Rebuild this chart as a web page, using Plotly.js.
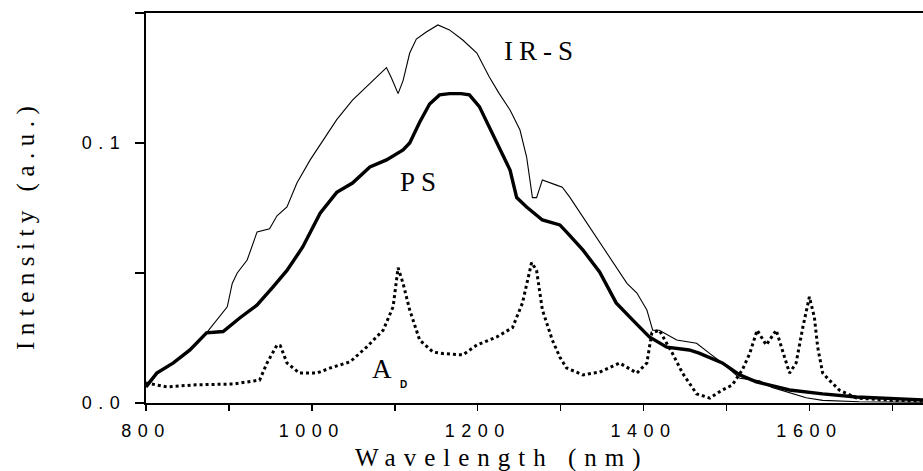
<!DOCTYPE html>
<html>
<head>
<meta charset="utf-8">
<script src="https://cdn.plot.ly/plotly-3.0.1.min.js"></script>
<style>
  html, body { margin: 0; padding: 0; background: #fff; }
  .xtick text, .ytick text { letter-spacing: 6.5px; }
  .annotation[data-index="0"] text { letter-spacing: 8px; }
  .annotation[data-index="1"] text { letter-spacing: 6.5px; }
  .annotation[data-index="2"] text, .annotation[data-index="3"] text { letter-spacing: 6px; }
</style>
</head>
<body>
<div id="chart" style="width:923px;height:471px;"></div>
<script>
// ---- Data (wavelength in nm, intensity in a.u.) ----
const irsX = [800, 813, 833, 853, 873, 885, 898, 904, 910, 922, 934, 949, 958, 970, 982, 998, 1013, 1030, 1049, 1070, 1090, 1096, 1104, 1110, 1118, 1126, 1138, 1152, 1166, 1182, 1199, 1214, 1226, 1239, 1251, 1259, 1266, 1271, 1278, 1295, 1302, 1311, 1327, 1339, 1355, 1367, 1380, 1392, 1404, 1411, 1419, 1440, 1464, 1480, 1495, 1516, 1540, 1555, 1575, 1596, 1616, 1660, 1700, 1737];
const irsY = [0.0062, 0.0115, 0.0154, 0.0204, 0.027, 0.032, 0.037, 0.046, 0.050, 0.055, 0.0658, 0.067, 0.072, 0.0754, 0.0846, 0.0935, 0.101, 0.109, 0.1165, 0.123, 0.129, 0.125, 0.119, 0.124, 0.1346, 0.140, 0.1427, 0.1454, 0.1435, 0.1396, 0.1346, 0.1254, 0.119, 0.1127, 0.105, 0.0946, 0.079, 0.079, 0.0858, 0.0838, 0.083, 0.0792, 0.0715, 0.0654, 0.0577, 0.0523, 0.046, 0.0423, 0.0358, 0.028, 0.028, 0.0242, 0.023, 0.019, 0.0154, 0.0095, 0.0085, 0.006, 0.004, 0.002, 0.001, 0.0005, 0.0004, 0.0003];

const psX = [800, 813, 833, 853, 873, 893, 913, 934, 953, 970, 989, 1010, 1030, 1049, 1070, 1090, 1110, 1118, 1130, 1142, 1154, 1166, 1180, 1190, 1202, 1214, 1226, 1239, 1247, 1259, 1278, 1299, 1307, 1327, 1347, 1367, 1387, 1407, 1428, 1455, 1467, 1495, 1516, 1536, 1576, 1616, 1657, 1696, 1737];
const psY = [0.0062, 0.0115, 0.0154, 0.0204, 0.027, 0.0275, 0.0327, 0.0377, 0.0446, 0.051, 0.060, 0.073, 0.081, 0.0846, 0.0908, 0.0935, 0.0973, 0.100, 0.108, 0.115, 0.1185, 0.119, 0.119, 0.1185, 0.114, 0.106, 0.0985, 0.0896, 0.079, 0.0754, 0.0704, 0.0685, 0.0658, 0.0588, 0.0504, 0.0385, 0.0319, 0.0254, 0.0215, 0.0204, 0.0192, 0.0154, 0.0108, 0.0081, 0.005, 0.0035, 0.0023, 0.0019, 0.0012];

const adX = [800, 825, 860, 905, 937, 946, 958, 962, 970, 985, 1006, 1025, 1046, 1066, 1086, 1098, 1104, 1110, 1118, 1130, 1146, 1158, 1182, 1199, 1223, 1242, 1254, 1265, 1271, 1278, 1290, 1299, 1307, 1327, 1347, 1371, 1392, 1404, 1410, 1419, 1435, 1447, 1464, 1480, 1495, 1507, 1519, 1528, 1537, 1548, 1560, 1576, 1584, 1592, 1600, 1606, 1610, 1616, 1624, 1636, 1657, 1700, 1737];
const adY = [0.0077, 0.0062, 0.007, 0.0073, 0.0088, 0.0154, 0.0223, 0.022, 0.0154, 0.0115, 0.0115, 0.0138, 0.0158, 0.0215, 0.028, 0.037, 0.052, 0.046, 0.0358, 0.0242, 0.0196, 0.019, 0.0185, 0.0223, 0.0254, 0.029, 0.0385, 0.054, 0.051, 0.0358, 0.0242, 0.0177, 0.0135, 0.0108, 0.0119, 0.0154, 0.0115, 0.0154, 0.027, 0.028, 0.019, 0.0115, 0.0035, 0.0019, 0.005, 0.0069, 0.0127, 0.019, 0.028, 0.0223, 0.028, 0.0115, 0.0154, 0.029, 0.0408, 0.033, 0.0215, 0.0115, 0.0088, 0.005, 0.0019, 0.001, 0.0008];

const xTickVals = [800, 900, 1000, 1100, 1200, 1300, 1400, 1500, 1600, 1700];
const xTickText = ["800", "", "1000", "", "1200", "", "1400", "", "1600", ""];
const yTickVals = [0, 0.05, 0.1, 0.15];
const yTickText = ["0.0", "", "0.1", ""];

const seriesNames = ["IR-S", "PS", "AD"];

const traces = [
  { x: irsX, y: irsY, name: seriesNames[0], mode: "lines", line: { color: "#000", width: 1.1 } },
  { x: psX, y: psY, name: seriesNames[1], mode: "lines", line: { color: "#000", width: 3.4 } },
  { x: adX, y: adY, name: seriesNames[2], mode: "lines", line: { color: "#000", width: 3, dash: "dot" } }
];

const serif = "Times New Roman, Times, serif";
const sans = "Arial, Helvetica, sans-serif";
const layout = {
  width: 923, height: 471,
  margin: { l: 146, r: 0, t: 13, b: 68, pad: 0 },
  paper_bgcolor: "#fff", plot_bgcolor: "#fff",
  showlegend: false,
  font: { family: serif, color: "#000" },
  xaxis: {
    range: [800, 1737], showgrid: false, zeroline: false,
    showline: true, linecolor: "#000", linewidth: 2, mirror: true,
    ticks: "outside", ticklen: 6, tickwidth: 1.5, tickcolor: "#000",
    tickmode: "array", tickvals: xTickVals, ticktext: xTickText,
    tickfont: { family: sans, size: 18, color: "#000" },
    ticklabelstandoff: 4
  },
  yaxis: {
    range: [0, 0.15], showgrid: false, zeroline: false,
    showline: true, linecolor: "#000", linewidth: 2,
    ticks: "outside", ticklen: 9, tickwidth: 1.5, tickcolor: "#000",
    tickmode: "array", tickvals: yTickVals, ticktext: yTickText,
    tickfont: { family: sans, size: 18, color: "#000" },
    ticklabelstandoff: 5
  },
  annotations: [
    { text: "Wavelength (nm)", xref: "paper", yref: "paper", x: 0.458, y: -0.14,
      xanchor: "center", yanchor: "middle", showarrow: false,
      font: { family: serif, size: 25, color: "#000" } },
    { text: "Intensity (a.u.)", xref: "paper", yref: "paper", x: -0.155, y: 0.455,
      xanchor: "center", yanchor: "middle", textangle: -90, showarrow: false,
      font: { family: serif, size: 25, color: "#000" } },
    { text: "IR-S", x: 1277, y: 0.1354, xanchor: "center", yanchor: "middle", showarrow: false,
      font: { family: serif, size: 27, color: "#000" } },
    { text: "PS", x: 1132, y: 0.085, xanchor: "center", yanchor: "middle", showarrow: false,
      font: { family: serif, size: 27, color: "#000" } },
    { text: "A", x: 1085, y: 0.0131, xanchor: "center", yanchor: "middle", showarrow: false,
      font: { family: serif, size: 27, color: "#000" } },
    { text: "D", x: 1111, y: 0.0073, xanchor: "center", yanchor: "middle", showarrow: false,
      font: { family: sans, size: 10, color: "#000", weight: "bold" } }
  ]
};

Plotly.newPlot("chart", traces, layout, { staticPlot: true, displayModeBar: false });
</script>
</body>
</html>
